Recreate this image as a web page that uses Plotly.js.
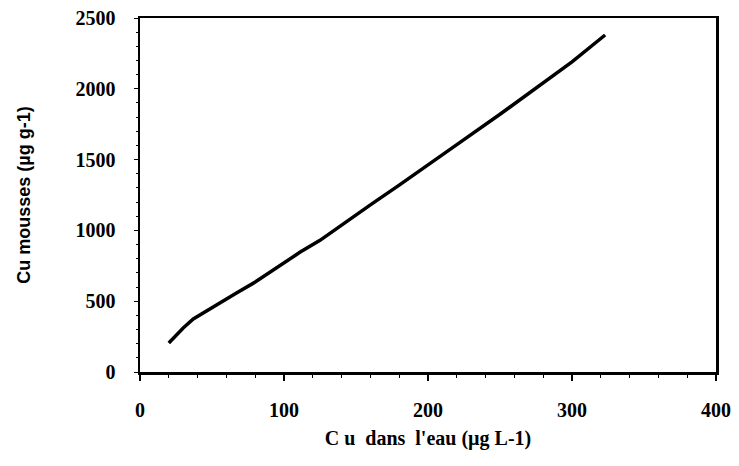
<!DOCTYPE html>
<html>
<head>
<meta charset="utf-8">
<script src="https://cdn.plot.ly/plotly-3.0.1.min.js"></script>
<style>html,body{margin:0;padding:0;background:#fff;}#chart{width:739px;height:466px;}</style>
</head>
<body>
<div id="chart"></div>
<script>
const cuEau = [20, 25, 30, 37, 45, 55, 67, 80, 100, 111, 125, 140, 160, 180, 200, 222, 250, 280, 300, 323];
const cuMousses = [205, 260, 311, 375, 425, 485, 558, 635, 770, 845, 930, 1040, 1180, 1320, 1460, 1620, 1820, 2040, 2190, 2380];
const xTitle = "C u  dans  l'eau (µg L-1)";
const yTitle = "Cu mousses (µg g-1)";

const trace = {
  x: cuEau, y: cuMousses, type: 'scatter', mode: 'lines',
  line: {color: '#000', width: 3.5, shape: 'linear'},
  hoverinfo: 'skip'
};
const serif = 'Liberation Serif';
const layout = {
  width: 739, height: 466,
  margin: {l: 140, r: 23, t: 18, b: 94},
  paper_bgcolor: '#fff', plot_bgcolor: '#fff',
  showlegend: false,
  xaxis: {
    range: [0, 400], tickvals: [0, 100, 200, 300, 400], showgrid: false, zeroline: false,
    showline: true, linecolor: '#000', linewidth: 2.5, mirror: true,
    ticks: 'outside', ticklen: 6, tickwidth: 1.5, tickcolor: '#000',
    minor: {dtick: 20, ticks: 'outside', ticklen: 3, tickwidth: 1, tickcolor: '#000'},
    ticklabelstandoff: 12,
    tickfont: {family: serif, size: 20, color: '#000', weight: 'bold'},
    title: {text: xTitle, standoff: 12, font: {family: serif, size: 20, color: '#000', weight: 'bold'}}
  },
  yaxis: {
    range: [0, 2500], tickvals: [0, 500, 1000, 1500, 2000, 2500], showgrid: false, zeroline: false,
    showline: true, linecolor: '#000', linewidth: 2.5, mirror: true,
    ticks: 'outside', ticklen: 4, tickwidth: 1, tickcolor: '#000',
    minor: {dtick: 100, ticks: 'outside', ticklen: 2, tickwidth: 1, tickcolor: '#000'},
    ticklabelstandoff: 14,
    tickfont: {family: serif, size: 20, color: '#000', weight: 'bold'},
    title: {text: yTitle, standoff: 40, font: {family: 'Liberation Sans', size: 18, color: '#000', weight: 'bold'}}
  }
};
Plotly.newPlot('chart', [trace], layout, {staticPlot: true, displayModeBar: false});
</script>
</body>
</html>
